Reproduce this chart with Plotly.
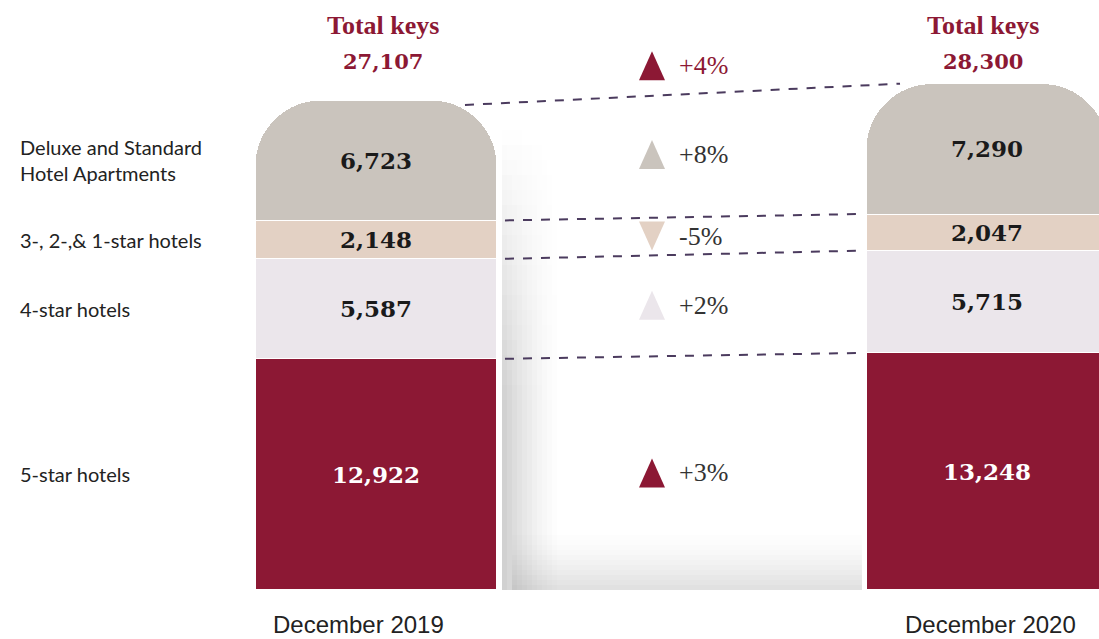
import plotly.graph_objects as go

# ---------------- data ----------------
periods = ["December 2019", "December 2020"]
categories = ["5-star hotels", "4-star hotels", "3-, 2-,& 1-star hotels",
              "Deluxe and Standard<br>Hotel Apartments"]
keys_2019 = [12922, 5587, 2148, 6723]
keys_2020 = [13248, 5715, 2047, 7290]
totals = [27107, 28300]
change_labels = ["+3%", "+2%", "-5%", "+8%"]
change_up = [True, True, False, True]
total_change_label = "+4%"

# ---------------- style ----------------
seg_colors = ["#8c1834", "#ebe6eb", "#e3d1c4", "#cac4bd"]
val_colors = ["#ffffff", "#1a1a1a", "#1a1a1a", "#1a1a1a"]
crimson = "#8c1834"
W, H = 1099, 639
xpos = [0, 1]
bar_w = 0.396
x_lo, x_hi = -0.6154, 1.1833
y_lo, y_hi = -2739, 32975
x_unit = W / (x_hi - x_lo)          # px per x unit
y_unit = H / (y_hi - y_lo)          # px per key
num_font = "DejaVu Serif"


def px_x(p):
    return x_lo + p / W * (x_hi - x_lo)


def py(p):
    return 1 - p / H


def cumsum(a):
    out, s = [], 0
    for v in a:
        s += v
        out.append(s)
    return out


c19, c20 = cumsum(keys_2019), cumsum(keys_2020)

fig = go.Figure()

for i in range(len(categories)):
    fig.add_trace(go.Bar(
        x=xpos, y=[keys_2019[i], keys_2020[i]], width=bar_w,
        marker=dict(color=seg_colors[i], line=dict(color="white", width=1)),
        text=[f"{keys_2019[i]:,}", f"{keys_2020[i]:,}"],
        textposition="inside", insidetextanchor="middle", textangle=0,
        constraintext="none",
        textfont=dict(family=num_font, size=23, color=val_colors[i], weight="bold"),
        hoverinfo="skip", name=categories[i],
    ))

# change indicators
tri_x = px_x(652)
lab_x = px_x(677)
mid_y = []
for i in range(len(categories)):
    lo19 = c19[i] - keys_2019[i]
    lo20 = c20[i] - keys_2020[i]
    mid_y.append(((lo19 + c19[i]) / 2 + (lo20 + c20[i]) / 2) / 2)
total_y = max(totals) + 1000

annotations = []
for i, lab in enumerate(change_labels):
    annotations.append(dict(x=lab_x, y=mid_y[i], xref="x", yref="y", text=lab, showarrow=False,
                            xanchor="left", yanchor="middle",
                            font=dict(family="Liberation Serif", size=26, color="#333333")))
annotations.append(dict(x=lab_x, y=total_y, xref="x", yref="y", text=total_change_label, showarrow=False,
                        xanchor="left", yanchor="middle",
                        font=dict(family="Liberation Serif", size=26, color=crimson)))

# category labels (centred on the 2019 segments)
for i, cat in enumerate(categories):
    ymid = c19[i] - keys_2019[i] / 2
    annotations.append(dict(x=18 / W, y=ymid, xref="paper", yref="y", text=cat, showarrow=False,
                            xanchor="left", yanchor="middle", align="left",
                            font=dict(family="Lato", size=20, color="#222222")))

# headers
for j, tot in enumerate(totals):
    shift = 7 if j == 0 else -4
    annotations.append(dict(x=xpos[j], y=py(25), xref="x", yref="paper", text="<b>Total keys</b>",
                            showarrow=False, xshift=shift, yanchor="middle",
                            font=dict(family="Liberation Serif", size=26, color=crimson)))
    annotations.append(dict(x=xpos[j], y=py(61), xref="x", yref="paper", text=f"<b>{tot:,}</b>",
                            showarrow=False, xshift=shift, yanchor="middle",
                            font=dict(family=num_font, size=21, color=crimson)))
    annotations.append(dict(x=xpos[j], y=py(624), xref="x", yref="paper", text=periods[j],
                            showarrow=False, xshift=(-18 if j == 0 else 3), yanchor="middle",
                            font=dict(family="Liberation Sans", size=24, color="#222222")))

shapes = []
# soft shadow to the right of the first bar (horizontal fade x vertical fade)
n_cols = 12
rows = [(130 + 15 * r, 145 + 15 * r) for r in range(18)] + [(400, 590)]
for (ya, yb) in rows:
    vf = min(1.0, max(0.0, ((ya + yb) / 2 - 130) / 270))
    for k in range(n_cols):
        a = 0.36 * (1 - (k + 0.5) / n_cols) ** 1.5 * vf
        if a < 0.005:
            continue
        shapes.append(dict(type="rect", xref="paper", yref="paper",
                           x0=(502 + 5 * k) / W, x1=(507 + 5 * k) / W, y0=py(yb), y1=py(ya),
                           fillcolor=f"rgba(120,120,120,{a:.3f})", line=dict(width=0), layer="below"))
m = 12
for k in range(m):
    a = 0.24 * ((k + 1) / m) ** 1.6
    shapes.append(dict(type="rect", xref="paper", yref="paper",
                       x0=512 / W, x1=862 / W, y0=py(530 + 5 * (k + 1)), y1=py(530 + 5 * k),
                       fillcolor=f"rgba(130,130,130,{a:.3f})", line=dict(width=0), layer="below"))

# triangles for the change indicators (sized in pixels, placed in data units)
dx = 13 / x_unit
dy = 14.5 / y_unit
tri_y = mid_y + [total_y]
tri_up = change_up + [True]
tri_col = seg_colors + [crimson]
for cy, up, col in zip(tri_y, tri_up, tri_col):
    if up:
        path = (f"M {tri_x - dx},{cy - dy} L {tri_x + dx},{cy - dy} L {tri_x},{cy + dy} Z")
    else:
        path = (f"M {tri_x - dx},{cy + dy} L {tri_x + dx},{cy + dy} L {tri_x},{cy - dy} Z")
    shapes.append(dict(type="path", xref="x", yref="y", path=path, fillcolor=col,
                       line=dict(width=0), layer="above"))

# dashed connectors between segment boundaries
line_style = dict(color="#4b3b5e", width=2, dash="dash")
gap = 8 / x_unit
for i in range(len(categories) - 1):
    shapes.append(dict(type="line", xref="x", yref="y",
                       x0=xpos[0] + bar_w / 2 + gap, x1=xpos[1] - bar_w / 2 - gap,
                       y0=c19[i], y1=c20[i], line=line_style, layer="above"))
shapes.append(dict(type="line", xref="x", yref="y",
                   x0=xpos[0] + bar_w / 2 - 32 / x_unit, x1=xpos[1] - bar_w / 2 + 34 / x_unit,
                   y0=totals[0], y1=totals[1], line=line_style, layer="above"))

fig.update_layout(
    width=W, height=H, barmode="stack", barcornerradius=66,
    margin=dict(l=0, r=0, t=0, b=0),
    paper_bgcolor="white", plot_bgcolor="white", showlegend=False,
    xaxis=dict(range=[x_lo, x_hi], visible=False, fixedrange=True),
    yaxis=dict(range=[y_lo, y_hi], visible=False, fixedrange=True),
    annotations=annotations, shapes=shapes,
)

fig.write_html("out.html", config={"displayModeBar": False},
               post_script="document.body.style.margin='0';document.body.style.overflow='hidden';")
